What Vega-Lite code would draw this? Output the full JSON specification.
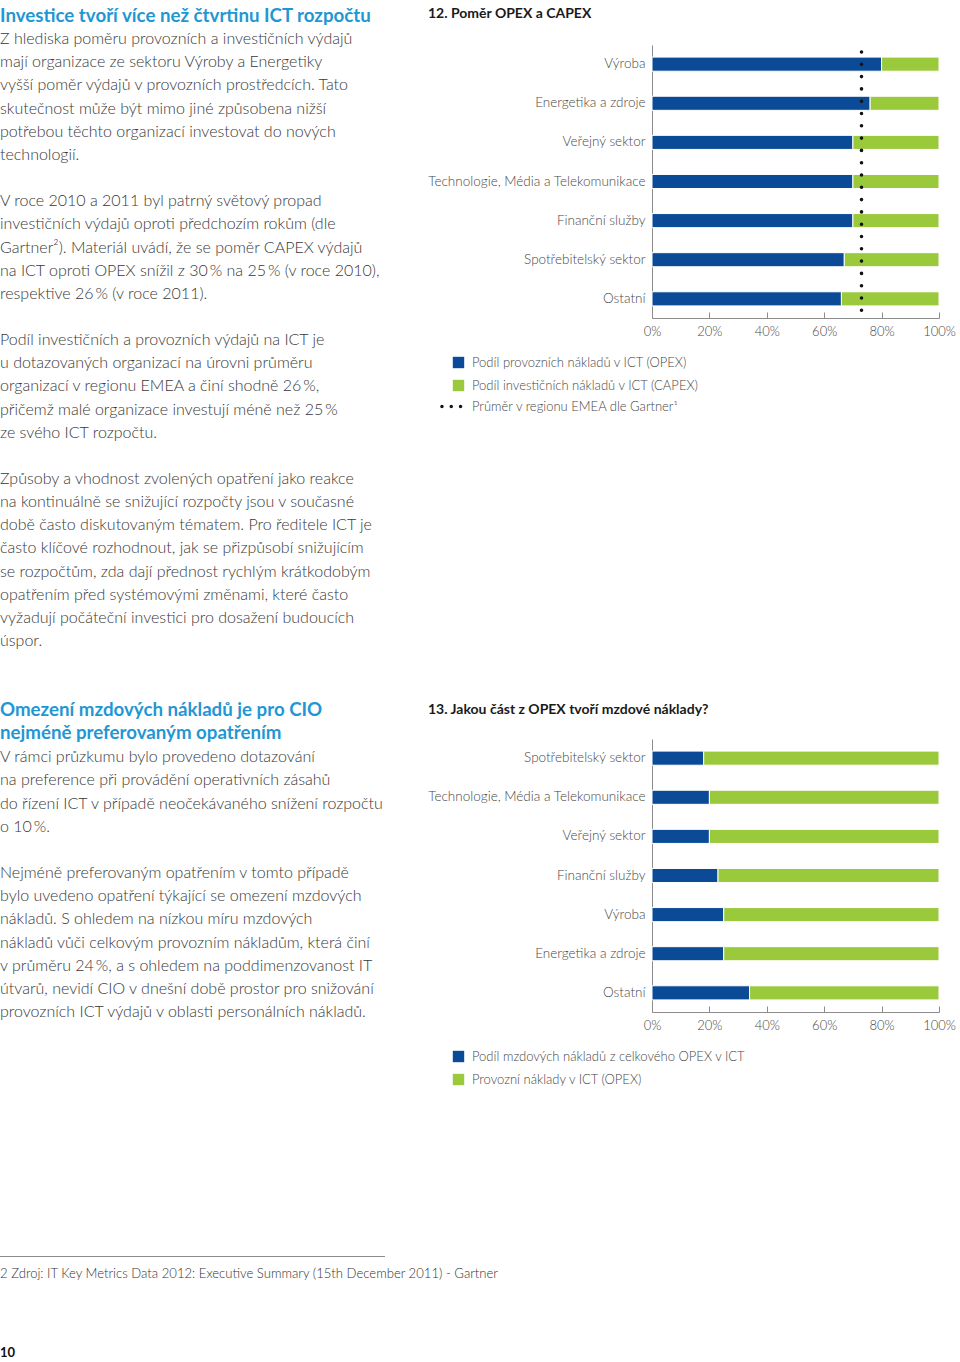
{
  "$schema": "https://vega.github.io/schema/vega-lite/v6.json",
  "background": "white",
  "padding": {"left": 0, "top": 7, "right": 0, "bottom": 0},
  "config": {
    "font": "Lato",
    "view": {"stroke": null},
    "axis": {
      "title": null,
      "grid": false,
      "labelFont": "Lato",
      "labelFontSize": 13,
      "labelFontWeight": 300,
      "labelColor": "#474747",
      "domainColor": "#8c8c8c",
      "tickColor": "#8c8c8c"
    },
    "legend": {
      "orient": "none",
      "direction": "vertical",
      "title": null,
      "padding": 0,
      "labelFont": "Lato",
      "labelFontSize": 13,
      "labelFontWeight": 300,
      "labelColor": "#474747",
      "labelOffset": 7,
      "rowPadding": 9,
      "symbolType": "square",
      "symbolSize": 130,
      "symbolStrokeWidth": 0,
      "symbolOpacity": 1,
      "labelLimit": 0
    }
  },
  "resolve": {
    "scale": {"color": "independent", "shape": "independent"},
    "legend": {"color": "independent", "shape": "independent"}
  },
  "columns": 2,
  "bounds": "flush",
  "align": "each",
  "spacing": {"row": 0, "column": 267},
  "concat": [
    {
      "width": 385,
      "height": 1,
      "data": {"values": []},
      "mark": "point",
      "title": {
        "text": ["Investice tvoří více než čtvrtinu ICT rozpočtu"],
        "subtitle": [
          "Z hlediska poměru provozních a investičních výdajů",
          "mají organizace ze sektoru Výroby a Energetiky",
          "vyšší poměr výdajů v provozních prostředcích. Tato",
          "skutečnost může být mimo jiné způsobena nižší",
          "potřebou těchto organizací investovat do nových",
          "technologií.",
          "\u200b",
          "V roce 2010 a 2011 byl patrný světový propad",
          "investičních výdajů oproti předchozím rokům (dle",
          "Gartner²). Materiál uvádí, že se poměr CAPEX výdajů",
          "na ICT oproti OPEX snížil z 30\u2009% na 25\u2009% (v roce 2010),",
          "respektive 26\u2009% (v roce 2011).",
          "\u200b",
          "Podíl investičních a provozních výdajů na ICT je",
          "u dotazovaných organizací na úrovni průměru",
          "organizací v regionu EMEA a činí shodně 26\u2009%,",
          "přičemž malé organizace investují méně než 25\u2009%",
          "ze svého ICT rozpočtu.",
          "\u200b",
          "Způsoby a vhodnost zvolených opatření jako reakce",
          "na kontinuálně se snižující rozpočty jsou v současné",
          "době často diskutovaným tématem. Pro ředitele ICT je",
          "často klíčové rozhodnout, jak se přizpůsobí snižujícím",
          "se rozpočtům, zda dají přednost rychlým krátkodobým",
          "opatřením před systémovými změnami, které často",
          "vyžadují počáteční investici pro dosažení budoucích",
          "úspor."
        ],
        "orient": "bottom",
        "anchor": "start",
        "frame": "group",
        "offset": -39,
        "font": "Lato",
        "fontSize": 18.7,
        "fontWeight": "bold",
        "color": "#1f97d4",
        "lineHeight": 23.15,
        "subtitleFont": "Lato",
        "subtitleFontSize": 16,
        "subtitleFontWeight": 300,
        "subtitleColor": "#383838",
        "subtitleLineHeight": 23.15,
        "subtitlePadding": 5.5
      }
    },
    {
      "width": 287,
      "height": 273,
      "title": {
        "text": "12. Poměr OPEX a CAPEX",
        "orient": "top",
        "anchor": "start",
        "frame": "group",
        "dx": -224,
        "offset": 22,
        "font": "Lato",
        "fontSize": 14,
        "fontWeight": "bold",
        "color": "#1a1a1a"
      },
      "layer": [
        {
          "data": {
            "values": [
              {"odvetvi": "Výroba", "ukazatel": "Podíl provozních nákladů v ICT (OPEX)", "podil": 80},
              {"odvetvi": "Výroba", "ukazatel": "Podíl investičních nákladů v ICT (CAPEX)", "podil": 20},
              {"odvetvi": "Energetika a zdroje", "ukazatel": "Podíl provozních nákladů v ICT (OPEX)", "podil": 76},
              {"odvetvi": "Energetika a zdroje", "ukazatel": "Podíl investičních nákladů v ICT (CAPEX)", "podil": 24},
              {"odvetvi": "Veřejný sektor", "ukazatel": "Podíl provozních nákladů v ICT (OPEX)", "podil": 70},
              {"odvetvi": "Veřejný sektor", "ukazatel": "Podíl investičních nákladů v ICT (CAPEX)", "podil": 30},
              {"odvetvi": "Technologie, Média a Telekomunikace", "ukazatel": "Podíl provozních nákladů v ICT (OPEX)", "podil": 70},
              {"odvetvi": "Technologie, Média a Telekomunikace", "ukazatel": "Podíl investičních nákladů v ICT (CAPEX)", "podil": 30},
              {"odvetvi": "Finanční služby", "ukazatel": "Podíl provozních nákladů v ICT (OPEX)", "podil": 70},
              {"odvetvi": "Finanční služby", "ukazatel": "Podíl investičních nákladů v ICT (CAPEX)", "podil": 30},
              {"odvetvi": "Spotřebitelský sektor", "ukazatel": "Podíl provozních nákladů v ICT (OPEX)", "podil": 67},
              {"odvetvi": "Spotřebitelský sektor", "ukazatel": "Podíl investičních nákladů v ICT (CAPEX)", "podil": 33},
              {"odvetvi": "Ostatní", "ukazatel": "Podíl provozních nákladů v ICT (OPEX)", "podil": 66},
              {"odvetvi": "Ostatní", "ukazatel": "Podíl investičních nákladů v ICT (CAPEX)", "podil": 34}
            ]
          },
          "mark": {"type": "bar", "stroke": "white", "strokeWidth": 1},
          "encoding": {
            "y": {
              "field": "odvetvi",
              "type": "nominal",
              "sort": null,
              "scale": {"paddingInner": 0.64, "paddingOuter": 0.31},
              "axis": {"ticks": false, "labelPadding": 7, "labelLimit": 0, "labelFontSize": 13.5}
            },
            "x": {
              "field": "podil",
              "type": "quantitative",
              "stack": "zero",
              "scale": {"domain": [0, 100], "nice": false},
              "axis": {"values": [0, 20, 40, 60, 80, 100], "labelExpr": "datum.value + '%'", "labelFlush": false, "tickSize": -6, "labelPadding": 13}
            },
            "order": {"field": "ukazatel", "sort": "descending"},
            "color": {
              "field": "ukazatel",
              "type": "nominal",
              "scale": {
                "domain": ["Podíl provozních nákladů v ICT (OPEX)", "Podíl investičních nákladů v ICT (CAPEX)"],
                "range": ["#0b4a96", "#9bc93c"]
              },
              "legend": {"legendX": -200, "legendY": 311}
            }
          }
        },
        {
          "data": {"values": [{"prumer": "Průměr v regionu EMEA dle Gartner¹", "podil": 73}]},
          "mark": {"type": "rule", "color": "#111111", "strokeDash": [0, 12.3], "strokeCap": "round", "strokeWidth": 3.6, "strokeDashOffset": 5.3},
          "encoding": {
            "x": {"field": "podil", "type": "quantitative"}
          }
        },
        {
          "data": {"values": []},
          "mark": {"type": "point", "filled": true, "color": "#111111", "opacity": 1},
          "encoding": {
            "shape": {
              "datum": "Průměr v regionu EMEA dle Gartner¹",
              "type": "nominal",
              "scale": {
                "domain": ["Průměr v regionu EMEA dle Gartner¹"],
                "range": ["M-3.2,0a0.3,0.3 0 1,0 0.6,0a0.3,0.3 0 1,0 -0.6,0M-1.57,0a0.3,0.3 0 1,0 0.6,0a0.3,0.3 0 1,0 -0.6,0M0.06,0a0.3,0.3 0 1,0 0.6,0a0.3,0.3 0 1,0 -0.6,0"]
              },
              "legend": {"legendX": -200, "legendY": 355}
            }
          }
        }
      ]
    },
    {"width": 1, "height": 421, "data": {"values": []}, "mark": "point"},
    {"width": 1, "height": 1, "data": {"values": []}, "mark": "point"},
    {
      "width": 385,
      "height": 1,
      "data": {"values": []},
      "mark": "point",
      "title": {
        "text": ["Omezení mzdových nákladů je pro CIO", "nejméně preferovaným opatřením"],
        "subtitle": [
          "V rámci průzkumu bylo provedeno dotazování",
          "na preference při provádění operativních zásahů",
          "do řízení ICT v případě neočekávaného snížení rozpočtu",
          "o 10\u2009%.",
          "\u200b",
          "Nejméně preferovaným opatřením v tomto případě",
          "bylo uvedeno opatření týkající se omezení mzdových",
          "nákladů. S ohledem na nízkou míru mzdových",
          "nákladů vůči celkovým provozním nákladům, která činí",
          "v průměru 24\u2009%, a s ohledem na poddimenzovanost IT",
          "útvarů, nevidí CIO v dnešní době prostor pro snižování",
          "provozních ICT výdajů v oblasti personálních nákladů."
        ],
        "orient": "bottom",
        "anchor": "start",
        "frame": "group",
        "offset": -39,
        "font": "Lato",
        "fontSize": 18.7,
        "fontWeight": "bold",
        "color": "#1f97d4",
        "lineHeight": 23.15,
        "subtitleFont": "Lato",
        "subtitleFontSize": 16,
        "subtitleFontWeight": 300,
        "subtitleColor": "#383838",
        "subtitleLineHeight": 23.15,
        "subtitlePadding": 6.5
      }
    },
    {
      "width": 287,
      "height": 273,
      "title": {
        "text": "13. Jakou část z OPEX tvoří mzdové náklady?",
        "orient": "top",
        "anchor": "start",
        "frame": "group",
        "dx": -224,
        "offset": 22,
        "font": "Lato",
        "fontSize": 14,
        "fontWeight": "bold",
        "color": "#1a1a1a"
      },
      "data": {
        "values": [
          {"odvetvi": "Spotřebitelský sektor", "ukazatel": "Podíl mzdových nákladů z celkového OPEX v ICT", "podil": 18},
          {"odvetvi": "Spotřebitelský sektor", "ukazatel": "Provozní náklady v ICT (OPEX)", "podil": 82},
          {"odvetvi": "Technologie, Média a Telekomunikace", "ukazatel": "Podíl mzdových nákladů z celkového OPEX v ICT", "podil": 20},
          {"odvetvi": "Technologie, Média a Telekomunikace", "ukazatel": "Provozní náklady v ICT (OPEX)", "podil": 80},
          {"odvetvi": "Veřejný sektor", "ukazatel": "Podíl mzdových nákladů z celkového OPEX v ICT", "podil": 20},
          {"odvetvi": "Veřejný sektor", "ukazatel": "Provozní náklady v ICT (OPEX)", "podil": 80},
          {"odvetvi": "Finanční služby", "ukazatel": "Podíl mzdových nákladů z celkového OPEX v ICT", "podil": 23},
          {"odvetvi": "Finanční služby", "ukazatel": "Provozní náklady v ICT (OPEX)", "podil": 77},
          {"odvetvi": "Výroba", "ukazatel": "Podíl mzdových nákladů z celkového OPEX v ICT", "podil": 25},
          {"odvetvi": "Výroba", "ukazatel": "Provozní náklady v ICT (OPEX)", "podil": 75},
          {"odvetvi": "Energetika a zdroje", "ukazatel": "Podíl mzdových nákladů z celkového OPEX v ICT", "podil": 25},
          {"odvetvi": "Energetika a zdroje", "ukazatel": "Provozní náklady v ICT (OPEX)", "podil": 75},
          {"odvetvi": "Ostatní", "ukazatel": "Podíl mzdových nákladů z celkového OPEX v ICT", "podil": 34},
          {"odvetvi": "Ostatní", "ukazatel": "Provozní náklady v ICT (OPEX)", "podil": 66}
        ]
      },
      "mark": {"type": "bar", "stroke": "white", "strokeWidth": 1},
      "encoding": {
        "y": {
          "field": "odvetvi",
          "type": "nominal",
          "sort": null,
          "scale": {"paddingInner": 0.64, "paddingOuter": 0.31},
          "axis": {"ticks": false, "labelPadding": 7, "labelLimit": 0, "labelFontSize": 13.5}
        },
        "x": {
          "field": "podil",
          "type": "quantitative",
          "stack": "zero",
          "scale": {"domain": [0, 100], "nice": false},
          "axis": {"values": [0, 20, 40, 60, 80, 100], "labelExpr": "datum.value + '%'", "labelFlush": false, "tickSize": -6, "labelPadding": 13}
        },
        "order": {"field": "ukazatel", "sort": "ascending"},
        "color": {
          "field": "ukazatel",
          "type": "nominal",
          "scale": {
            "domain": ["Podíl mzdových nákladů z celkového OPEX v ICT", "Provozní náklady v ICT (OPEX)"],
            "range": ["#0b4a96", "#9bc93c"]
          },
          "legend": {"legendX": -200, "legendY": 311}
        }
      }
    },
    {"width": 1, "height": 244, "data": {"values": []}, "mark": "point"},
    {"width": 1, "height": 1, "data": {"values": []}, "mark": "point"},
    {
      "width": 385,
      "height": 1,
      "view": {"fill": "#8c8c8c", "stroke": null},
      "data": {"values": []},
      "mark": "point",
      "title": {
        "text": "2 Zdroj: IT Key Metrics Data 2012: Executive Summary (15th December 2011) - Gartner",
        "subtitle": "10",
        "orient": "bottom",
        "anchor": "start",
        "frame": "group",
        "offset": 11,
        "font": "Lato",
        "fontSize": 13.1,
        "fontWeight": 300,
        "color": "#333333",
        "subtitleFont": "Lato",
        "subtitleFontSize": 13,
        "subtitleFontWeight": "bold",
        "subtitleColor": "#111111",
        "subtitlePadding": 66
      }
    }
  ]
}
